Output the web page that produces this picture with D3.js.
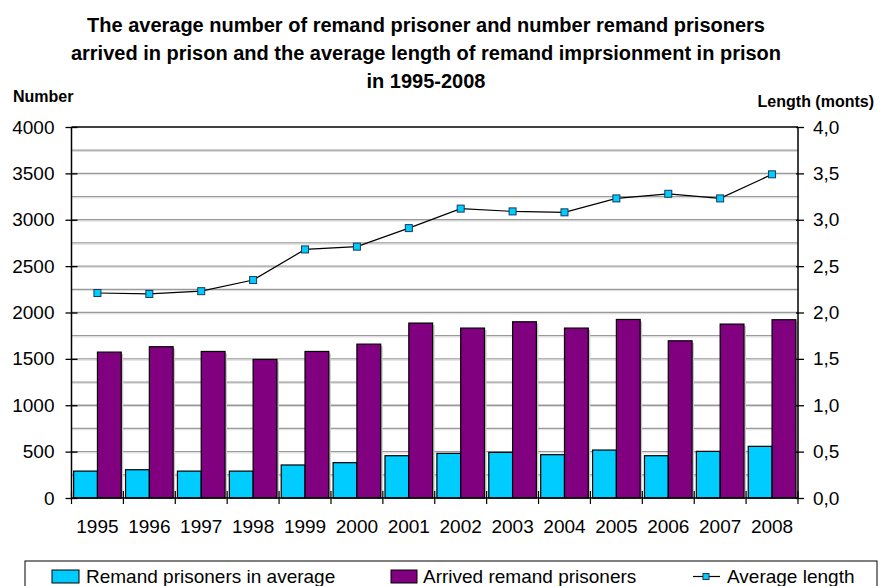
<!DOCTYPE html>
<html><head><meta charset="utf-8">
<script src="https://cdn.jsdelivr.net/npm/d3@7"></script>
<style>
html,body{margin:0;padding:0;background:#fff;}
svg{display:block;font-family:"Liberation Sans",Arial,sans-serif;}
</style></head>
<body><svg id="c" width="880" height="586"></svg>
<script>
const years = ["1995","1996","1997","1998","1999","2000","2001","2002","2003","2004","2005","2006","2007","2008"];
const remandAverage = [290,305,290,290,356,381,456,481,492,467,517,456,503,557];
const arrivedRemand = [1573,1631,1580,1494,1580,1659,1886,1832,1900,1832,1925,1695,1875,1922];
const averageLength = [2.21,2.20,2.23,2.35,2.68,2.71,2.91,3.12,3.09,3.08,3.23,3.28,3.23,3.49];
const leftTicks = [0,500,1000,1500,2000,2500,3000,3500,4000];
const rightTicks = [0,0.5,1,1.5,2,2.5,3,3.5,4];
const gridValues = [250,500,750,1000,1250,1500,1750,2000,2250,2500,2750,3000,3250,3500,3750];
const seriesNames = ["Remand prisoners in average","Arrived remand prisoners","Average length"];
const titleLines = ["The average number of remand prisoner and number remand prisoners",
  "arrived in prison and the average length of remand imprsionment in prison","in 1995-2008"];

const colors = {remand:"#00CCFF", arrived:"#800080"};
const svg = d3.select("#c");
const L = 71.5, R = 798, T = 127, B = 498;

const x = d3.scaleBand().domain(years).range([L,R]).padding(0);
const sub = d3.scaleBand().domain(["remand","arrived"]).range([0,x.bandwidth()]).paddingOuter(0.09).paddingInner(0);
const y = d3.scaleLinear().domain([0,4000]).range([B,T]);
const y2 = d3.scaleLinear().domain([0,4]).range([B,T]);
const commaFmt = d3.formatLocale({decimal:",",thousands:" ",grouping:[3],currency:["",""]}).format(".1f");

// title
svg.append("g").selectAll("text").data(titleLines).join("text")
  .attr("x",426).attr("y",(d,i)=>32+i*28).attr("text-anchor","middle")
  .attr("font-size",20).attr("font-weight","bold").attr("fill","#000").text(d=>d);
svg.append("text").attr("x",13).attr("y",102).attr("font-size",16).attr("font-weight","bold").text("Number");
svg.append("text").attr("x",874).attr("y",107).attr("text-anchor","end").attr("font-size",16).attr("font-weight","bold").text("Length (monts)");

// gridlines
svg.append("g").selectAll("line").data(gridValues).join("line")
  .attr("x1",L).attr("x2",R).attr("y1",d=>y(d)).attr("y2",d=>y(d))
  .attr("stroke","#9a9a9a").attr("stroke-width",1.3);
svg.append("g").selectAll("line").data(gridValues).join("line")
  .attr("x1",L).attr("x2",R).attr("y1",d=>y(d)+1.3).attr("y2",d=>y(d)+1.3)
  .attr("stroke","#dcdcdc").attr("stroke-width",1);
// top border
svg.append("line").attr("x1",L).attr("x2",R).attr("y1",T).attr("y2",T).attr("stroke","#000").attr("stroke-width",1.3);

// bars
const g = svg.append("g");
const rows = years.map((yr,i)=>({yr, remand:remandAverage[i], arrived:arrivedRemand[i]}));
["remand","arrived"].forEach(k=>{
  g.selectAll("rect.s"+k).data(rows).join("rect").attr("class","s"+k)
    .attr("x",d=>x(d.yr)+sub(k)+2).attr("y",d=>y(d[k])+2)
    .attr("width",sub.bandwidth()).attr("height",d=>B-y(d[k])-2)
    .attr("fill","#c8c8c8");
});
["remand","arrived"].forEach(k=>{
  g.selectAll("rect.b"+k).data(rows).join("rect").attr("class","b"+k)
    .attr("x",d=>x(d.yr)+sub(k)).attr("y",d=>y(d[k]))
    .attr("width",sub.bandwidth()).attr("height",d=>B-y(d[k]))
    .attr("fill",colors[k]).attr("stroke","#000").attr("stroke-width",1.2);
});

// axes
const axL = svg.append("g").attr("transform",`translate(${L},0)`)
  .call(d3.axisLeft(y).tickValues(leftTicks).tickSize(6).tickPadding(11).tickFormat(d3.format("d")));
axL.selectAll(".tick line").attr("x1",6);
const axR = svg.append("g").attr("transform",`translate(${R},0)`)
  .call(d3.axisRight(y2).tickValues(rightTicks).tickSize(6).tickPadding(9).tickFormat(commaFmt));
axR.selectAll(".tick line").attr("x1",-2);
const axB = svg.append("g").attr("transform",`translate(0,${B})`)
  .call(d3.axisBottom(x).tickSize(0).tickPadding(22));
[axL,axR,axB].forEach(a=>{
  a.selectAll(".domain").attr("stroke","#000").attr("stroke-width",1.5);
  a.selectAll(".tick line").attr("stroke","#000").attr("stroke-width",1.3);
  a.selectAll("text").attr("font-size",19).attr("fill","#000").attr("font-family","Liberation Sans, Arial, sans-serif");
});
axL.select(".domain").attr("d",`M0,${T}V${B}`);
axR.select(".domain").attr("d",`M0,${T}V${B}`);
axB.select(".domain").attr("d",`M${L},0H${R}`);
// category boundary ticks
const bounds = years.map(d=>x(d)).concat([R]);
axB.append("g").selectAll("line").data(bounds).join("line")
  .attr("x1",d=>d).attr("x2",d=>d).attr("y1",-7).attr("y2",6)
  .attr("stroke","#000").attr("stroke-width",1.2);

// line
const pts = years.map((yr,i)=>[x(yr)+x.bandwidth()/2, y2(averageLength[i])]);
svg.append("path").attr("d",d3.line()(pts)).attr("fill","none").attr("stroke","#000").attr("stroke-width",1.2);
svg.append("g").selectAll("rect").data(pts).join("rect")
  .attr("x",d=>d[0]-3.5).attr("y",d=>d[1]-3.5).attr("width",7).attr("height",7)
  .attr("fill","#00CCFF").attr("stroke","#1a3a5a").attr("stroke-width",1);

// legend
const lg = svg.append("g");
lg.append("rect").attr("x",25).attr("y",561).attr("width",852).attr("height",40).attr("fill","#fff").attr("stroke","#000").attr("stroke-width",1);
lg.append("rect").attr("x",52).attr("y",570).attr("width",27).attr("height",13).attr("fill",colors.remand).attr("stroke","#000").attr("stroke-width",1);
lg.append("text").attr("x",86).attr("y",583).attr("font-size",19).text(seriesNames[0]);
lg.append("rect").attr("x",391).attr("y",570).attr("width",26).attr("height",13).attr("fill",colors.arrived).attr("stroke","#000").attr("stroke-width",1);
lg.append("text").attr("x",423).attr("y",583).attr("font-size",19).text(seriesNames[1]);
lg.append("line").attr("x1",693).attr("x2",720).attr("y1",576.5).attr("y2",576.5).attr("stroke","#000").attr("stroke-width",1.2);
lg.append("rect").attr("x",703).attr("y",573.5).attr("width",6).attr("height",6).attr("fill","#00CCFF").attr("stroke","#1a3a5a").attr("stroke-width",1);
lg.append("text").attr("x",727).attr("y",583).attr("font-size",19).text(seriesNames[2]);
</script></body></html>
